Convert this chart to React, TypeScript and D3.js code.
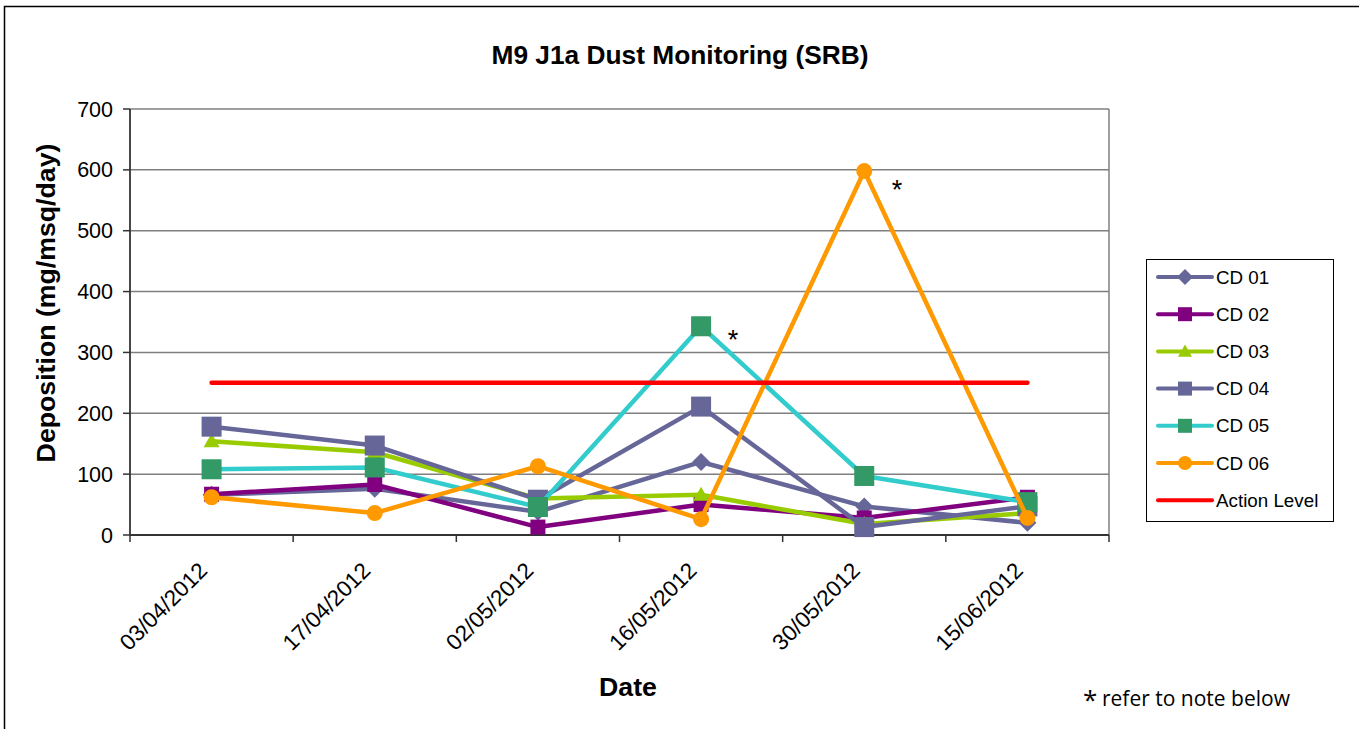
import React from "react";
import * as d3 from "d3";

const dates = ["03/04/2012", "17/04/2012", "02/05/2012", "16/05/2012", "30/05/2012", "15/06/2012"];
const cd01 = [66, 76, 38, 120, 47, 20];
const cd02 = [67, 83, 13, 50, 28, 62];
const cd03 = [154, 136, 60, 66, 18, 36];
const cd04 = [178, 147, 58, 211, 13, 47];
const cd05 = [108, 111, 46, 343, 97, 54];
const cd06 = [62, 36, 113, 26, 598, 28];
const actionLevel = [250, 250, 250, 250, 250, 250];
const yTicks = [0, 100, 200, 300, 400, 500, 600, 700];

type Marker = "diamond" | "square" | "triangle" | "circle" | "none";
interface Series { name: string; values: number[]; line: string; fill: string; marker: Marker; size: number; }

const series: Series[] = [
  { name: "CD 01", values: cd01, line: "#666699", fill: "#666699", marker: "diamond", size: 9 },
  { name: "CD 02", values: cd02, line: "#800080", fill: "#800080", marker: "square", size: 7.5 },
  { name: "CD 03", values: cd03, line: "#99CC00", fill: "#99CC00", marker: "triangle", size: 8 },
  { name: "CD 04", values: cd04, line: "#666699", fill: "#666699", marker: "square", size: 10 },
  { name: "CD 05", values: cd05, line: "#33CCCC", fill: "#339966", marker: "square", size: 10 },
  { name: "CD 06", values: cd06, line: "#FF9900", fill: "#FF9900", marker: "circle", size: 8 },
  { name: "Action Level", values: actionLevel, line: "#FF0000", fill: "#FF0000", marker: "none", size: 0 },
];

const W = 1359, H = 729;
const plot = { left: 130, right: 1109, top: 109, bottom: 535 };
const font = "'Liberation Sans', Arial, sans-serif";

function markerPath(m: Marker, s: number): string {
  switch (m) {
    case "diamond": return `M0,${-s}L${s},0L0,${s}L${-s},0Z`;
    case "square": return `M${-s},${-s}H${s}V${s}H${-s}Z`;
    case "triangle": return `M0,${-s}L${s},${s * 0.75}L${-s},${s * 0.75}Z`;
    case "circle": return `M${-s},0A${s},${s} 0 1,0 ${s},0A${s},${s} 0 1,0 ${-s},0Z`;
    default: return "";
  }
}

export default function App() {
  const x = d3.scaleBand<string>().domain(dates).range([plot.left, plot.right]).padding(0);
  const y = d3.scaleLinear().domain([0, 700]).range([plot.bottom, plot.top]);
  const cx = (d: string) => (x(d) as number) + x.bandwidth() / 2;
  const line = d3.line<number>().x((_, i) => cx(dates[i])).y((v) => y(v));
  const boundaries = d3.range(dates.length + 1).map((i) => plot.left + i * x.bandwidth());

  const legend = { x: 1146, y: 259, w: 187, h: 262, first: 277, step: 37.2 };

  return (
    <svg width={W} height={H} style={{ position: "absolute", left: 0, top: 0, background: "#fff" }}>
      <rect x={4.5} y={6.5} width={1500} height={900} fill="#fff" stroke="#000" strokeWidth={1.5} />
      <text x={680} y={64} textAnchor="middle" fontFamily={font} fontWeight="bold" fontSize={26.3}>M9 J1a Dust Monitoring (SRB)</text>

      {/* gridlines */}
      {yTicks.filter((t) => t > 0).map((t) => (
        <line key={t} x1={plot.left} x2={plot.right} y1={y(t)} y2={y(t)} stroke="#7f7f7f" strokeWidth={1.5} />
      ))}
      <line x1={plot.right} x2={plot.right} y1={plot.top} y2={plot.bottom} stroke="#7f7f7f" strokeWidth={1.5} />

      {/* axes */}
      <line x1={plot.left} x2={plot.left} y1={plot.top} y2={plot.bottom} stroke="#333" strokeWidth={1.8} />
      <line x1={plot.left} x2={plot.right} y1={plot.bottom} y2={plot.bottom} stroke="#333" strokeWidth={1.8} />
      {yTicks.map((t) => (
        <g key={t}>
          <line x1={plot.left - 7} x2={plot.left} y1={y(t)} y2={y(t)} stroke="#333" strokeWidth={1.5} />
          <text x={113} y={y(t) + 7.5} textAnchor="end" fontFamily={font} fontSize={21.5}>{t}</text>
        </g>
      ))}
      {boundaries.map((b, i) => (
        <line key={i} x1={b} x2={b} y1={plot.bottom} y2={plot.bottom + 7} stroke="#333" strokeWidth={1.5} />
      ))}
      {dates.map((d) => (
        <text key={d} transform={`translate(${cx(d) - 3},${572}) rotate(-45)`} textAnchor="end" fontFamily={font} fontSize={22.5}>{d}</text>
      ))}

      <text transform={`translate(55,${303}) rotate(-90)`} textAnchor="middle" fontFamily={font} fontWeight="bold" fontSize={26.7}>Deposition (mg/msq/day)</text>
      <text x={628} y={696} textAnchor="middle" fontFamily={font} fontWeight="bold" fontSize={26.7}>Date</text>

      {/* series */}
      {series.map((s) => (
        <g key={s.name}>
          <path d={line(s.values) as string} fill="none" stroke={s.line} strokeWidth={4.5} strokeLinejoin="round" strokeLinecap="round" />
          {s.marker !== "none" && s.values.map((v, i) => (
            <path key={i} d={markerPath(s.marker, s.size)} transform={`translate(${cx(dates[i])},${y(v)})`} fill={s.fill} />
          ))}
        </g>
      ))}

      {/* annotations */}
      <text x={733} y={349} textAnchor="middle" fontFamily={font} fontSize={27}>*</text>
      <text x={897} y={199} textAnchor="middle" fontFamily={font} fontSize={27}>*</text>

      {/* legend */}
      <rect x={legend.x + 0.5} y={legend.y + 0.5} width={legend.w} height={legend.h} fill="#fff" stroke="#000" strokeWidth={1} />
      {series.map((s, i) => {
        const ly = legend.first + i * legend.step;
        return (
          <g key={s.name}>
            <line x1={1158} x2={1212} y1={ly} y2={ly} stroke={s.line} strokeWidth={4} strokeLinecap="round" />
            {s.marker !== "none" && (
              <path d={markerPath(s.marker, s.marker === "diamond" ? 8 : 7)} transform={`translate(1185,${ly})`} fill={s.fill} />
            )}
            <text x={1216} y={ly + 6.5} fontFamily={font} fontSize={18.8}>{s.name}</text>
          </g>
        );
      })}

      <text x={1083} y={709} fontFamily="'Open Sans', 'DejaVu Sans', sans-serif" fontSize={26}>*</text>
      <text x={1102} y={706} fontFamily="'Open Sans', 'DejaVu Sans', sans-serif" fontSize={21}>refer to note below</text>
    </svg>
  );
}
